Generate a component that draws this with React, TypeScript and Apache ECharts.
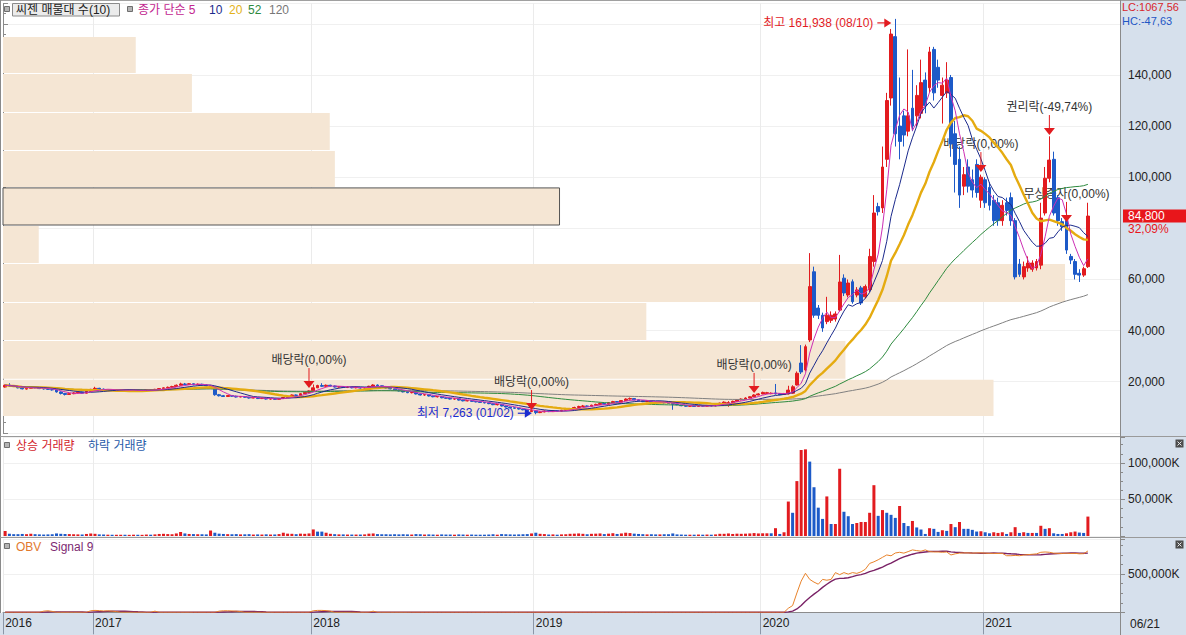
import React, { useEffect, useRef } from "react";
import * as echarts from "echarts";

const FONT = "'Liberation Sans', 'Noto Sans CJK KR', sans-serif";
const RED = "#e21b1f";
const BLUE = "#1d5ac8";
const PANEL = "#d6e0ec";

// ---------- x axis ----------
const slotCount = 261; // weekly slots on the time axis (last ones empty)
const yearTicks: [number, string][] = [[0, "2016"], [21, "2017"], [72, "2018"], [124, "2019"], [177, "2020"], [229, "2021"]];
const lastDateLabel = "06/21";
const extremeDates = { high: "08/10", low: "01/02" };

// ---------- weekly candles [open, close, low, high] in thousand KRW ----------
const ohlc2016 = [
  [17.9,18.6,17.7,18.9],[18.7,18.3,18.1,19.4],[18.4,18.1,17.9,18.6],[18.0,17.6,17.4,18.2],[17.6,17.2,17.0,17.8],
  [17.1,17.4,16.9,17.6],[17.4,17.9,17.3,18.1],[17.9,17.6,17.4,18.0],[17.6,17.3,17.1,17.8],[17.3,17.2,16.9,17.5],
  [17.2,17.0,16.8,17.4],[16.9,16.8,16.5,17.1],[16.8,16.0,15.7,16.9],[16.0,15.4,15.0,16.2],[15.4,15.0,14.6,15.6],
  [15.0,15.3,14.8,15.5],[15.3,15.6,15.1,15.9],[15.6,15.9,15.4,16.1],[15.9,15.5,15.3,16.0],[15.5,16.2,15.4,16.4],
  [16.2,17.0,16.1,17.2],
];
const ohlc2017 = [
  [17.0,17.4,16.8,18.0],[17.4,17.1,16.9,17.6],[17.1,16.8,16.6,17.3],[16.8,16.9,16.6,17.1],[16.9,16.6,16.4,17.0],
  [16.6,16.7,16.4,16.9],[16.7,16.9,16.5,17.1],[16.9,16.5,16.3,17.0],[16.5,16.6,16.3,16.8],[16.6,16.8,16.4,17.0],
  [16.8,16.4,16.2,16.9],[16.4,16.6,16.2,16.8],[16.6,16.8,16.5,17.0],[16.8,16.7,16.5,17.0],[16.7,17.0,16.6,17.2],
  [17.0,17.3,16.9,17.5],[17.3,17.6,17.2,17.8],[17.6,17.8,17.4,18.1],[17.8,18.1,17.7,18.4],[18.1,18.6,18.0,18.9],
  [18.6,19.1,18.5,19.6],[19.1,18.9,18.7,19.5],[18.9,19.2,18.8,19.4],[19.2,18.8,18.6,19.3],[18.8,19.0,18.7,19.3],
  [19.0,18.7,18.5,19.2],[18.7,18.4,18.2,18.9],[18.4,18.0,17.8,18.6],[17.8,14.9,14.5,18.0],[14.9,14.5,14.2,15.2],
  [14.5,14.2,14.0,14.8],[14.2,14.6,14.0,14.8],[14.6,14.3,14.1,14.8],[14.3,14.0,13.8,14.5],[14.0,14.2,13.9,14.4],
  [14.2,13.9,13.7,14.3],[13.9,13.6,13.4,14.0],[13.6,13.8,13.5,14.0],[13.8,13.4,13.2,13.9],[13.4,13.5,13.2,13.7],
  [13.5,13.2,13.0,13.6],[13.2,13.3,13.0,13.5],[13.3,13.1,12.9,13.4],[13.1,13.4,13.0,13.6],[13.4,13.8,13.3,14.0],
  [13.8,14.3,13.7,14.5],[14.3,14.8,14.2,15.0],[14.8,14.6,14.4,15.0],[14.6,15.3,14.5,15.5],[15.3,15.8,15.2,16.0],
  [15.8,16.4,15.7,16.7],
];
const ohlc2018 = [
  [16.4,17.6,16.3,18.9],[17.6,18.5,17.5,18.8],[18.5,18.2,17.9,19.4],[18.2,18.6,18.0,18.9],[18.6,18.3,18.1,18.8],
  [18.3,17.9,17.7,18.5],[17.9,18.1,17.7,18.3],[18.1,17.8,17.6,18.2],[17.8,17.9,17.5,18.1],[17.9,17.6,17.4,18.0],
  [17.6,17.8,17.4,18.0],[17.8,17.5,17.3,17.9],[17.5,17.7,17.3,17.9],[17.7,18.2,17.6,18.4],[18.2,18.7,18.1,19.0],
  [18.7,18.4,18.2,18.9],[18.4,17.9,17.7,18.5],[17.9,17.5,17.3,18.0],[17.5,17.2,17.0,17.6],[17.2,16.8,16.6,17.3],
  [16.8,16.4,16.2,16.9],[16.4,16.0,15.8,16.5],[16.0,15.7,15.5,16.1],[15.7,15.8,15.4,16.0],[15.8,15.2,15.0,15.9],
  [15.2,14.8,14.6,15.3],[14.8,14.9,14.5,15.1],[14.9,14.4,14.2,15.0],[14.4,14.1,13.9,14.5],[14.1,14.2,13.8,14.4],
  [14.2,13.7,13.5,14.3],[13.7,13.5,13.3,13.8],[13.5,13.2,13.0,13.6],[13.2,13.3,12.9,13.5],[13.3,12.8,12.6,13.4],
  [12.8,12.5,12.3,12.9],[12.5,12.6,12.3,12.8],[12.6,12.3,12.1,12.7],[12.3,12.1,11.9,12.4],[12.1,11.9,11.7,12.2],
  [11.9,11.7,11.5,12.0],[11.7,11.4,11.2,11.8],[11.4,11.0,10.8,11.5],[11.0,11.1,10.7,11.3],[11.1,10.5,10.3,11.2],
  [10.5,10.1,9.9,10.6],[10.1,9.8,9.6,10.2],[9.8,9.6,9.4,9.9],[9.6,9.3,9.1,9.7],[9.3,9.0,8.8,9.4],
  [9.0,8.6,8.4,9.1],[8.3,8.7,8.1,8.8],
];
const ohlc2019 = [
  [8.6,7.9,7.263,8.7],[7.9,8.2,7.7,8.4],[8.2,8.5,8.0,8.7],[8.5,8.3,8.1,8.7],[8.3,8.6,8.2,8.8],
  [8.6,8.5,8.3,8.8],[8.5,8.8,8.4,9.0],[8.8,9.0,8.7,9.3],[9.0,9.5,8.9,9.7],[9.5,9.9,9.4,10.2],
  [9.9,10.3,9.8,10.6],[10.3,10.5,10.1,10.9],[10.5,10.3,10.1,10.7],[10.3,10.8,10.2,11.0],[10.8,11.1,10.7,11.4],
  [11.1,11.5,11.0,11.8],[11.5,11.2,11.0,11.6],[11.2,11.8,11.1,12.0],[11.8,12.2,11.7,12.5],[12.2,12.0,11.8,12.4],
  [12.0,12.6,11.9,12.8],[12.6,13.2,12.5,13.5],[13.2,13.4,13.0,13.8],[13.4,12.9,12.7,13.5],[12.9,12.5,12.3,13.0],
  [12.5,12.2,12.0,12.6],[12.2,12.4,12.0,12.6],[12.4,12.0,11.8,12.5],[12.0,11.8,11.6,12.1],[11.8,12.1,11.7,12.3],
  [12.1,11.7,11.5,12.2],[11.7,11.5,11.3,11.9],[11.5,11.2,9.0,11.6],[11.2,11.0,10.8,11.3],[10.8,10.6,10.4,10.9],
  [10.6,10.4,10.2,10.7],[10.4,10.5,10.2,10.7],[10.5,10.3,10.1,10.6],[10.3,10.6,10.2,10.8],[10.6,10.4,10.2,10.7],
  [10.4,10.7,10.3,10.9],[10.7,10.5,10.3,10.8],[10.5,10.9,10.4,11.1],[10.9,11.6,10.8,11.8],[11.6,12.0,11.5,12.3],
  [11.0,11.8,10.2,12.4],[11.8,12.3,11.7,12.6],[12.3,12.9,12.2,13.1],[12.9,13.2,12.7,13.5],[13.2,13.6,13.1,13.9],
  [13.6,14.1,13.5,14.3],[14.1,14.8,14.0,15.1],[14.8,15.2,14.7,15.5],
];
const ohlc2020 = [
  [15.2,15.8,15.1,16.1],[15.4,15.7,15.2,16.0],[15.3,15.5,15.1,15.8],[15.6,15.2,15.0,19.1],[15.3,14.9,14.7,15.5],
  [15.0,15.3,14.8,15.6],[15.2,16.7,15.0,18.4],[15.5,18.0,15.3,18.6],[18.7,23.3,18.5,24.0],[27.3,23.8,23.0,34.3],
  [24.6,33.7,24.0,34.5],[36.3,57.2,35.5,70.3],[63.0,46.0,45.0,65.0],[48.8,46.0,44.5,50.0],[46.0,41.0,39.5,47.0],
  [43.5,46.0,42.5,53.2],[44.0,46.0,43.0,47.5],[44.5,46.5,43.5,47.5],[48.0,59.0,47.5,69.6],[60.5,54.7,53.5,62.0],
  [53.9,58.6,53.0,60.0],[59.1,51.3,50.5,60.0],[53.9,55.9,53.0,57.0],[56.7,50.8,50.0,57.5],[53.2,57.2,52.5,58.0],
  [56.0,69.0,55.0,72.0],[67.0,86.0,65.0,93.0],[88.5,86.5,85.0,90.0],[88.0,104.0,86.0,112.0],[107.0,130.0,104.0,133.0],
  [131.0,156.0,128.0,158.0],[155.0,117.0,112.0,161.938],[120.0,114.0,107.0,139.0],[124.0,116.5,112.0,126.0],[118.0,124.0,116.0,150.0],
  [127.0,120.0,118.0,142.0],[124.0,132.0,120.0,136.0],[125.0,137.0,123.0,146.0],[138.0,128.0,125.0,141.0],[135.0,149.0,133.0,151.0],
  [150.0,133.0,130.0,151.0],[143.0,138.0,135.0,146.0],[132.0,136.0,121.0,139.0],[133.0,138.0,131.0,145.0],[139.0,113.0,108.0,140.0],
  [117.0,105.0,94.0,122.0],[107.0,93.0,88.0,112.0],[96.5,101.0,93.0,104.0],[104.0,96.5,94.0,107.0],[99.0,95.0,92.0,103.0],
  [105.0,94.0,92.0,107.0],[91.0,100.0,88.0,101.0],
];
const ohlc2021 = [
  [99.0,90.0,88.0,100.0],[96.0,89.0,87.0,98.0],[91.0,83.0,81.0,93.0],[90.0,83.0,81.0,92.0],[83.0,89.0,81.0,91.0],
  [90.0,87.0,85.0,92.0],[92.0,83.0,81.0,94.0],[83.0,61.0,60.0,84.0],[66.0,62.0,61.0,68.0],[61.0,65.0,60.0,67.0],
  [64.5,66.4,63.0,69.0],[64.0,66.4,63.0,67.5],[64.5,67.0,63.5,68.0],[65.6,84.0,64.0,90.0],[86.0,99.6,85.0,104.0],
  [99.6,106.7,98.0,116.0],[107.0,86.0,85.0,110.0],[92.0,83.0,81.0,93.0],[82.6,80.6,79.0,84.0],[83.0,71.5,70.0,84.0],
  [69.0,67.6,66.0,70.0],[67.0,62.0,60.0,68.0],[62.4,61.7,59.0,64.0],[61.7,64.2,61.0,65.0],[65.0,84.8,64.5,90.0],
];

// ---------- weekly volume in K shares: + 상승 거래량, - 하락 거래량 ----------
const vol2016 = [7000,-3000,-2500,-2500,-2800,2500,3000,-2500,-2200,-2000,-2200,-2400,-3500,-3000,-2800,2600,2400,2200,-2000,2800,3500];
const vol2017 = [3000,-2200,-2000,1800,-1800,1700,1800,-1700,1600,1800,-1700,1600,2000,-1800,2200,2800,3000,2600,2400,3500,5500,-3500,2800,-2600,2400,-2400,-2200,7500,-4500,-3200,-2800,2500,-2400,-2600,2200,-2300,-2500,2000,-2200,2000,-2300,2000,-2100,2600,4500,3200,3000,-2500,3200,3000,3500];
const vol2018 = [9000,-6000,-6000,4500,3000,-2500,2200,-2200,2000,-2000,2000,-2000,2200,3200,3500,-2600,-2400,-2400,-2200,-2400,-2200,-2400,-2200,2000,-2600,-2400,2000,-2200,-2000,1800,-2200,-2000,-2000,1800,-2200,-2000,1800,-2000,-1800,-1800,-1800,-2000,-2400,1800,-2600,-2400,-2200,-2000,-2200,-2400,-2600,3500];
const vol2019 = [-4500,3000,2600,-2000,2200,-1800,2200,2400,3000,3200,3500,3000,-2400,3000,3200,3500,-2600,3200,3800,-2800,3500,4500,4000,-3200,-2800,-2500,2200,-2400,-2200,2200,-2400,-2400,-3500,-2200,-2000,-1800,1800,-1800,2000,-1800,2000,-1800,2200,3000,3000,3500,2800,3200,3000,3200,3500,4000,3500];
const vol2020 = [3700,3700,-3700,10700,-2800,5100,47200,-31800,75200,117800,118700,-101900,-66800,-38800,-23400,54200,-16400,16400,92100,-33200,-27100,-16400,17800,19200,19200,31800,69600,-27600,35500,-31800,-29000,-24800,41100,-17800,-13600,20600,-11700,-8900,-2800,10700,-9800,-5600,7900,-7000,16400,-12100,19200,-9800,-9800,-8400,-6100,6500];
const vol2021 = [-5100,-3700,5100,4200,5100,-2800,5100,12100,-4200,5100,-4200,4200,-4200,14000,-9800,10700,-3700,-2800,-2800,3700,5100,6100,-4700,-4200,26600];

// ---------- OBV in K shares ----------
const obvTo2019 = [
  0,0,0,0,0,0,0,0,0,15000,20000,12000,0,0,0,0,0,0,0,0,
  20000,25000,22000,18000,20000,15000,10000,0,0,0,0,0,0,0,0,15000,0,0,0,0,
  0,0,0,0,0,0,0,0,0,0,15000,20000,20000,18000,15000,10000,0,0,0,0,
  0,0,0,0,0,0,0,0,0,0,0,0,20000,25000,25000,22000,15000,0,0,0,
  0,0,0,0,0,0,15000,0,0,0,0,0,0,0,0,0,0,0,0,0,
  0,0,0,0,0,0,0,0,0,0,0,0,0,0,0,0,0,0,0,0,
  0,0,0,0,0,0,0,0,0,0,0,0,0,0,0,0,0,0,0,0,
  0,0,0,0,0,0,0,0,0,0,0,0,0,0,0,0,0,0,0,0,
  0,0,0,0,0,0,0,0,0,0,0,0,0,0,0,0,0,
];
const obvFrom2020 = [
  0,0,0,0,0,0,53000,88000,253000,408000,511000,431000,395000,368000,431000,420000,431000,520000,493000,520000,
  500000,520000,510000,530000,564000,640000,661000,688000,720000,751000,740000,777000,786000,775000,795000,817000,808000,800000,817000,795000,
  790000,790000,786000,790000,751000,766000,775000,778000,778000,775000,778000,778000,775000,772000,772000,770000,772000,741000,741000,745000,
  741000,750000,755000,760000,765000,786000,790000,786000,775000,772000,770000,775000,770000,772000,766000,768000,803000,
];

// ---------- moving averages ----------
const maPeriods = [120, 52, 20, 10, 5];
const maColors = ["#808080", "#2e8a3e", "#e5ab10", "#1b2a8c", "#cc2fb4"];

// ---------- volume profile (매물대), 10 price bands ----------
const bandEdges = [6600, 21100, 36300, 51200, 66400, 81300, 96200, 110600, 125500, 140800, 155200];
const bandShare = [19.4, 16.5, 12.6, 20.8, 0.7, 10.9, 6.5, 6.4, 3.7, 2.6]; // % of traded volume, bottom to top

// ---------- events ----------
const events = [
  { idx: 71, tip: 17500, label: "배당락(0,00%)" },
  { idx: 123, tip: 8900, label: "배당락(0,00%)" },
  { idx: 175, tip: 15600, label: "배당락(0,00%)" },
  { idx: 228, tip: 102000, label: "배당락(0,00%)" },
  { idx: 244, tip: 116500, label: "권리락(-49,74%)" },
  { idx: 248, tip: 82500, label: "무상증자(0,00%)" },
];

function sma(values: number[], n: number) {
  return values.map((_, i) => {
    const from = Math.max(0, i - n + 1);
    let s = 0;
    for (let k = from; k <= i; k++) s += values[k];
    return s / (i - from + 1);
  });
}
const fmt = (v: number) => Math.round(v).toLocaleString("en-US");
const pct = (v: number) => v.toFixed(2).replace(".", ",");

function txt(x: number, y: number, text: string, fill: string, size = 12) {
  return {
    type: "text", x, y, z: 20, silent: true,
    style: { text, fill, font: `${size}px ${FONT}`, align: "left", verticalAlign: "middle", textAlign: "left", textVerticalAlign: "middle" },
  };
}
function ln(x1: number, y1: number, x2: number, y2: number, stroke: string, z = 5) {
  return { type: "line", z, silent: true, shape: { x1, y1, x2, y2 }, style: { stroke, lineWidth: 1 } };
}
function rc(x: number, y: number, w: number, h: number, fill: string, stroke?: string, z = 5) {
  return { type: "rect", z, silent: true, shape: { x, y, width: w, height: h }, style: { fill, stroke: stroke || null, lineWidth: stroke ? 1 : 0 } };
}

export default function App() {
  const ref = useRef<HTMLDivElement>(null);
  useEffect(() => {
    document.body.style.margin = "0";
    const chart = echarts.init(ref.current!, null, { renderer: "svg" });

    const candles = [...ohlc2016, ...ohlc2017, ...ohlc2018, ...ohlc2019, ...ohlc2020, ...ohlc2021].map((r) => r.map((v) => Math.round(v * 1000)));
    const closes = candles.map((r) => r[1]);
    const lastClose = closes[closes.length - 1];
    const prevClose = closes[closes.length - 2];
    let hiIdx = 0, loIdx = 0;
    candles.forEach((r, i) => {
      if (r[3] > candles[hiIdx][3]) hiIdx = i;
      if (r[2] < candles[loIdx][2]) loIdx = i;
    });
    const hiVal = candles[hiIdx][3];
    const loVal = candles[loIdx][2];
    const volumes = [...vol2016, ...vol2017, ...vol2018, ...vol2019, ...vol2020, ...vol2021];
    const obv = [...obvTo2019, ...obvFrom2020];
    const signal = sma(obv, 9);
    const cats = Array.from({ length: slotCount }, (_, i) => String(i));
    const yearMap = new Map(yearTicks);
    const isYear = (i: number) => yearMap.has(i);
    const profileMax = Math.max(...bandShare) * 1117 / 1062;

    const catAxis = (gridIndex: number, withLabels: boolean) => ({
      type: "category", gridIndex, data: cats, boundaryGap: true,
      axisLine: { show: withLabels, lineStyle: { color: "#8c8c8c" } },
      axisTick: { show: withLabels, interval: (i: number) => isYear(i), length: 22, lineStyle: { color: "#8c97a8" } },
      axisLabel: {
        show: withLabels, interval: (i: number) => isYear(i), formatter: (_v: string, i: number) => yearMap.get(i) || "",
        align: "left", margin: 5, color: "#222", fontSize: 12, fontFamily: FONT,
      },
      splitLine: { show: true, interval: (i: number) => isYear(i), lineStyle: { color: "#ebebeb" } },
    });
    const valAxis = (gridIndex: number, max: number, interval: number, minorSplit: number, show: (v: number) => boolean, suffix: string) => ({
      type: "value", gridIndex, position: "right", min: 0, max, interval,
      axisLine: { show: true, lineStyle: { color: "#8a8a8a" } },
      axisTick: { show: true, length: 5, lineStyle: { color: "#8a8a8a" } },
      minorTick: { show: true, splitNumber: minorSplit, length: 3, lineStyle: { color: "#8a8a8a" } },
      axisLabel: { formatter: (v: number) => (show(v) ? fmt(v) + suffix : ""), margin: 8, color: "#222", fontSize: 12, fontFamily: FONT },
      splitLine: { show: true, lineStyle: { color: "#f0f0f0" } },
    });

    const option: any = {
      animation: false,
      textStyle: { fontFamily: FONT },
      grid: [
        { left: 3, right: 66, top: 3.4, height: 429.4 },
        { left: 3, right: 66, top: 437, height: 99 },
        { left: 3, right: 66, top: 539, height: 73.3 },
      ],
      xAxis: [
        catAxis(0, false),
        { type: "value", gridIndex: 0, min: 0, max: profileMax, show: false },
        catAxis(1, false),
        catAxis(2, true),
      ],
      yAxis: [
        valAxis(0, 168000, 20000, 5, (v) => v > 0 && v % 20000 === 0 && v !== 80000 && v !== 160000, ""),
        valAxis(1, 135600, 50000, 4, (v) => v > 0 && v % 50000 === 0, "K"),
        valAxis(2, 960000, 500000, 4, (v) => v === 500000, "K"),
      ],
      series: [
        {
          type: "custom", name: "씨젠 매물대", xAxisIndex: 1, yAxisIndex: 0, silent: true, z: 1,
          data: bandShare.map((s, i) => [s, bandEdges[i], bandEdges[i + 1]]),
          encode: { x: 0, y: [1, 2] },
          renderItem: (_p: any, api: any) => {
            const share = api.value(0), lo = api.value(1), hi = api.value(2);
            const a = api.coord([0, hi]);
            const b = api.coord([share, lo]);
            const hl = lastClose >= lo && lastClose < hi;
            return {
              type: "rect",
              shape: { x: a[0], y: a[1] + 1, width: b[0] - a[0], height: b[1] - a[1] - 1 },
              style: { fill: "#f5e6d4", stroke: hl ? "#555" : null, lineWidth: hl ? 1 : 0 },
            };
          },
        },
        {
          type: "custom", name: "events-text", xAxisIndex: 0, yAxisIndex: 0, silent: true, z: 2,
          data: events.map((e) => [e.idx, e.tip]),
          renderItem: (p: any, api: any) => {
            const c = api.coord([api.value(0), api.value(1)]);
            return {
              type: "text",
              style: { text: events[p.dataIndex].label, x: c[0], y: c[1] - 28, fill: "#333", font: `12px ${FONT}`,
                align: "center", verticalAlign: "middle", textAlign: "center", textVerticalAlign: "middle" },
            };
          },
        },
        {
          type: "candlestick", name: "씨젠", xAxisIndex: 0, yAxisIndex: 0, z: 3, barWidth: "78%",
          data: candles,
          itemStyle: { color: RED, color0: BLUE, borderColor: RED, borderColor0: BLUE, borderWidth: 1 },
        },
        ...maPeriods.map((p, k) => ({
          type: "line", name: `MA${p}`, xAxisIndex: 0, yAxisIndex: 0, z: 4, silent: true,
          data: sma(closes, p), showSymbol: false, symbol: "none",
          lineStyle: { width: p === 20 ? 2.4 : 1, color: maColors[k] },
        })),
        {
          type: "custom", name: "events-arrow", xAxisIndex: 0, yAxisIndex: 0, silent: true, z: 6,
          data: events.map((e) => [e.idx, e.tip]),
          renderItem: (_p: any, api: any) => {
            const c = api.coord([api.value(0), api.value(1)]);
            return {
              type: "group",
              children: [
                { type: "line", shape: { x1: c[0], y1: c[1] - 20, x2: c[0], y2: c[1] - 6 }, style: { stroke: RED, lineWidth: 1 } },
                { type: "polygon", shape: { points: [[c[0] - 5.5, c[1] - 7], [c[0] + 5.5, c[1] - 7], [c[0], c[1]]] }, style: { fill: RED } },
              ],
            };
          },
        },
        {
          type: "custom", name: "extremes", xAxisIndex: 0, yAxisIndex: 0, silent: true, z: 6,
          data: [[hiIdx, hiVal], [loIdx, loVal]],
          renderItem: (p: any, api: any) => {
            const isHi = p.dataIndex === 0;
            const c = api.coord([api.value(0), api.value(1)]);
            const tx = c[0] - 4;
            const ty = c[1] + (isHi ? 4 : -1);
            const col = isHi ? RED : "#1a2cd0";
            const label = isHi ? `최고 ${fmt(hiVal)} (${extremeDates.high})` : `최저 ${fmt(loVal)} (${extremeDates.low})`;
            return {
              type: "group",
              children: [
                { type: "line", shape: { x1: tx - 14, y1: ty, x2: tx - 6, y2: ty }, style: { stroke: col, lineWidth: 1.2 } },
                { type: "polygon", shape: { points: [[tx - 7, ty - 4.5], [tx - 7, ty + 4.5], [tx, ty]] }, style: { fill: col } },
                { type: "text", style: { text: label, x: tx - 18, y: ty, fill: col, font: `12px ${FONT}`,
                  align: "right", verticalAlign: "middle", textAlign: "right", textVerticalAlign: "middle" } },
              ],
            };
          },
        },
        {
          type: "bar", name: "상승 거래량", xAxisIndex: 2, yAxisIndex: 1, barWidth: "70%", barGap: "-100%",
          data: volumes.map((v) => (v > 0 ? v : null)), itemStyle: { color: RED }, silent: true,
        },
        {
          type: "bar", name: "하락 거래량", xAxisIndex: 2, yAxisIndex: 1, barWidth: "70%", barGap: "-100%",
          data: volumes.map((v) => (v < 0 ? -v : null)), itemStyle: { color: BLUE }, silent: true,
        },
        {
          type: "line", name: "Signal 9", xAxisIndex: 3, yAxisIndex: 2, data: signal, showSymbol: false, symbol: "none",
          lineStyle: { width: 1.4, color: "#7a2266" }, silent: true,
        },
        {
          type: "line", name: "OBV", xAxisIndex: 3, yAxisIndex: 2, data: obv, showSymbol: false, symbol: "none",
          lineStyle: { width: 1, color: "#e8822a" }, silent: true,
        },
      ],
    };
    chart.setOption(option);

    const tagY = chart.convertToPixel({ yAxisIndex: 0 } as any, lastClose) as unknown as number;
    const lc = (lastClose / loVal - 1) * 100;
    const hc = (lastClose / hiVal - 1) * 100;
    const chg = (lastClose / prevClose - 1) * 100;

    const closeIcon = (cx: number, cy: number) => [
      rc(cx - 4, cy - 4, 8, 8, "#4d4d4d", undefined, 20),
      ln(cx - 2, cy - 2, cx + 2, cy + 2, "#e8e8e8", 21),
      ln(cx - 2, cy + 2, cx + 2, cy - 2, "#e8e8e8", 21),
    ];
    const icon = (x: number, y: number) => rc(x + 0.5, y + 0.5, 5, 5, "#b4b4b4", "#6e6e6e", 20);

    const elements: any[] = [
      rc(1120, 0, 66, 635, PANEL, undefined, -1),
      rc(0, 613, 1186, 22, PANEL, undefined, -1),
      ln(0, 0.5, 1186, 0.5, "#a0a0a0"),
      ln(0.5, 0, 0.5, 613, "#8a8a8a"),
      ln(0, 436.5, 1186, 436.5, "#9a9a9a"),
      ln(0, 537.5, 1186, 537.5, "#9a9a9a"),
      ln(1120.5, 0, 1120.5, 635, "#8a8a8a"),
      // main legend
      icon(4, 6),
      rc(12.5, 3.5, 107, 12.5, "#ebebeb", "#8a8a8a", 19),
      txt(16, 9.8, "씨젠 매물대 수(10)", "#222"),
      icon(127, 6),
      txt(138, 9.8, "종가 단순 5", "#c2268f"),
      txt(209, 9.8, "10", "#1b2a8c"),
      txt(229, 9.8, "20", "#e3b21a"),
      txt(248, 9.8, "52", "#2e8a3e"),
      txt(269, 9.8, "120", "#777"),
      // volume legend
      icon(4, 442),
      txt(16, 445.5, "상승 거래량", "#d2232a"),
      txt(88, 445.5, "하락 거래량", "#1f5aa8"),
      // obv legend
      icon(4, 543),
      txt(16, 546.5, "OBV", "#e2792d"),
      txt(50, 546.5, "Signal 9", "#7d2a72"),
      ...closeIcon(1179.5, 443.5),
      ...closeIcon(1179.5, 544.5),
      // top right
      txt(1122, 7, `LC:${pct(lc)}`, "#d8262b", 11),
      txt(1122, 20.5, `HC:${pct(hc)}`, "#1f56c4", 11),
      // last price tag
      rc(1123, tagY - 6.5, 63, 13, "#e8161b", undefined, 19),
      txt(1128, tagY, fmt(lastClose), "#ffffff"),
      txt(1128, tagY + 13, `${pct(chg)}%`, "#e8161b"),
      // last date on time axis
      txt(1130, 623.5, lastDateLabel, "#222"),
    ];
    chart.setOption({ graphic: { elements } });

    return () => chart.dispose();
  }, []);
  return <div ref={ref} style={{ width: 1186, height: 635 }} />;
}
